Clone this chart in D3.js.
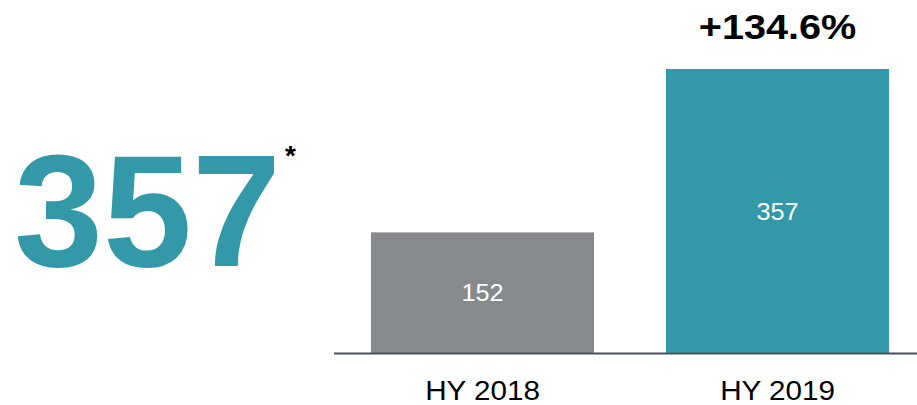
<!DOCTYPE html>
<html>
<head>
<meta charset="utf-8">
<script src="https://cdn.jsdelivr.net/npm/d3@7"></script>
<style>
  html, body { margin: 0; padding: 0; background: #fff; }
  svg { display: block; font-family: "Liberation Sans", Arial, sans-serif; }
</style>
</head>
<body>
<svg id="chart" width="917" height="405"></svg>
<script>
// Half-year values
const periods = ["HY 2018", "HY 2019"];
const values = [152, 357];
const barColors = ["#868a8d", "#3399a8"];
const headline = "357";
const changeLabel = "+134.6%";

const svg = d3.select("#chart");
const baseY = 353.5;

const x = d3.scaleBand()
  .domain(periods)
  .range([335, 925])
  .paddingInner(0.244)
  .paddingOuter(0.122);

const y = d3.scaleLinear()
  .domain([0, 357])
  .range([baseY, 69]);

// Bars
svg.selectAll("rect.bar")
  .data(values)
  .join("rect")
  .attr("class", "bar")
  .attr("x", (d, i) => x(periods[i]))
  .attr("y", d => y(d))
  .attr("width", x.bandwidth())
  .attr("height", d => baseY - y(d))
  .attr("fill", (d, i) => barColors[i]);

// Baseline
svg.append("line")
  .attr("x1", 334).attr("x2", 917)
  .attr("y1", baseY).attr("y2", baseY)
  .attr("stroke", "#47535a")
  .attr("stroke-width", 2);

// Value labels inside bars (slightly widened type)
svg.selectAll("text.val")
  .data(values)
  .join("text")
  .attr("class", "val")
  .attr("transform", (d, i) =>
    `translate(${x(periods[i]) + x.bandwidth() / 2},${(y(d) + baseY) / 2 + 8.5}) scale(1.1,1)`)
  .attr("text-anchor", "middle")
  .attr("fill", "#ffffff")
  .attr("font-size", 23)
  .text(d => d);

// Category labels
svg.selectAll("text.cat")
  .data(periods)
  .join("text")
  .attr("class", "cat")
  .attr("transform", d => `translate(${x(d) + x.bandwidth() / 2},399.5) scale(1.04,1)`)
  .attr("text-anchor", "middle")
  .attr("fill", "#000")
  .attr("font-size", 28.5)
  .text(d => d);

// Growth label above the latest bar
svg.append("text")
  .attr("transform", `translate(${x(periods[1]) + x.bandwidth() / 2},39) scale(1.1,1)`)
  .attr("text-anchor", "middle")
  .attr("font-weight", "bold")
  .attr("font-size", 36)
  .attr("fill", "#000")
  .text(changeLabel);

// Headline figure
svg.append("text")
  .attr("x", 14)
  .attr("y", 266)
  .attr("font-weight", "bold")
  .attr("font-size", 160)
  .attr("fill", "#3399a8")
  .text(headline);

svg.append("text")
  .attr("x", 285)
  .attr("y", 165)
  .attr("font-weight", "bold")
  .attr("font-size", 28)
  .attr("fill", "#000")
  .text("*");
</script>
</body>
</html>
